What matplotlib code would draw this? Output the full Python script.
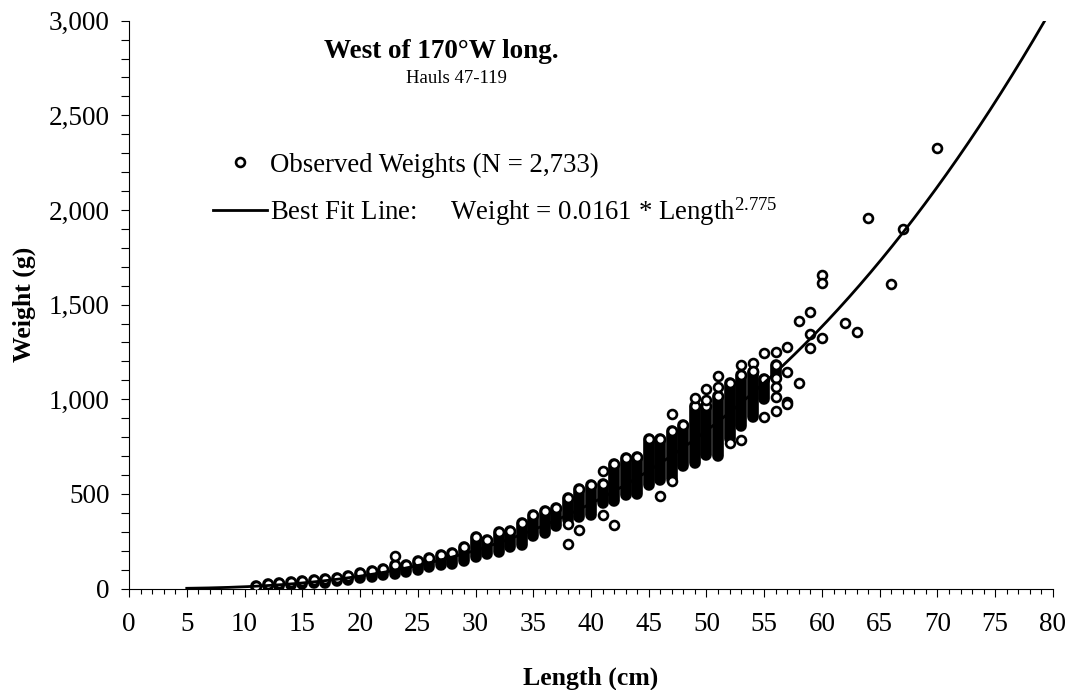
import numpy as np
import matplotlib
matplotlib.use('Agg')
import matplotlib.pyplot as plt
from matplotlib.ticker import MultipleLocator, StrMethodFormatter

# length classes (cm) with a dense band of observed weights (g)
lengths = [11, 12, 13, 14, 15, 16, 17, 18, 19, 20, 21, 22, 23, 24, 25, 26, 27, 28,
           29, 30, 31, 32, 33, 34, 35, 36, 37, 38, 39, 40, 41, 42, 43, 44, 45, 46,
           47, 48, 49, 50, 51, 52, 53, 54, 55, 56]
band_lo = [8, 12, 15, 18, 22, 28, 32, 40, 47, 55, 62, 70, 78, 90, 100, 112, 122, 132,
           145, 165, 185, 195, 220, 232, 280, 295, 330, 360, 380, 388, 450, 460, 494, 497,
           548, 575, 578, 650, 665, 705, 700, 790, 860, 908, 1004, 1110]
band_hi = [16, 22, 27, 33, 38, 45, 50, 58, 68, 80, 95, 105, 125, 125, 145, 160, 178, 188,
           220, 270, 258, 300, 305, 345, 390, 410, 425, 480, 528, 548, 555, 660, 690, 695,
           792, 790, 835, 865, 965, 965, 1018, 1085, 1130, 1146, 1105, 1180]

# scattered single observations
out_len = [23, 38, 38, 39, 41, 41, 42, 46, 47, 47, 49, 50, 50, 51, 51, 52, 53, 53,
           54, 54, 55, 55, 56, 56, 56, 56, 56, 57, 57, 57, 57, 58, 58, 59, 59, 59,
           60, 60, 60, 62, 63, 64, 66, 67, 70]
out_wt = [170, 339, 235, 312, 620, 388, 335, 488, 924, 568, 1008, 1055, 997, 1123, 1065,
          770, 1180, 786, 1192, 1150, 1245, 905, 1250, 1111, 1063, 1014, 938, 1278, 1144,
          988, 975, 1414, 1088, 1463, 1343, 1270, 1657, 1613, 1322, 1402, 1354, 1959,
          1608, 1897, 2329]

# fitted length-weight relationship
fit_a = 0.0161
fit_b = 2.775
fit_start = 5
fit_end = 80

plt.rcParams['font.family'] = ['Liberation Serif', 'DejaVu Serif']
plt.rcParams['mathtext.fontset'] = 'custom'
plt.rcParams['mathtext.rm'] = 'Liberation Serif'
plt.rcParams['mathtext.it'] = 'Liberation Serif:italic'
plt.rcParams['mathtext.bf'] = 'Liberation Serif:bold'

fig = plt.figure(figsize=(10.86, 6.9), dpi=100)
ax = fig.add_axes([0.1188, 0.147, 0.8508, 0.823])

mk = dict(linestyle='none', marker='o', ms=6.4, mfc='white', mec='black', mew=1.9)

ax.vlines(lengths, band_lo, band_hi, colors='black', linewidth=8.4, capstyle='round', zorder=2)
ax.plot(lengths, band_hi, zorder=3, **mk)
ax.plot(out_len, out_wt, zorder=3, label='Observed Weights (N = 2,733)', **mk)

fx = np.linspace(fit_start, fit_end, 400)
ax.plot(fx, fit_a * fx ** fit_b, color='black', lw=2.0, zorder=4,
        label='Best Fit Line:     Weight = 0.0161 * Length$^{2.775}$')

ax.set_xlim(0, 80)
ax.set_ylim(0, 3000)
ax.spines['top'].set_visible(False)
ax.spines['right'].set_visible(False)
ax.xaxis.set_major_locator(MultipleLocator(5))
ax.xaxis.set_minor_locator(MultipleLocator(1))
ax.yaxis.set_major_locator(MultipleLocator(500))
ax.yaxis.set_minor_locator(MultipleLocator(100))
ax.yaxis.set_major_formatter(StrMethodFormatter('{x:,.0f}'))
ax.tick_params(axis='x', which='major', length=6, width=0.8, pad=11, labelsize=19.5)
ax.tick_params(axis='x', which='minor', length=3.5, width=0.8)
ax.tick_params(axis='y', which='both', length=6, width=0.8, pad=8, labelsize=19.5)

ax.set_xlabel('Length (cm)', fontsize=18.5, fontweight='bold', labelpad=21)
ax.set_ylabel('Weight (g)', fontsize=18.5, fontweight='bold', labelpad=9)

ax.text(0.338, 0.946, 'West of 170\u00b0W long.', transform=ax.transAxes,
        ha='center', va='center', fontsize=19.5, fontweight='bold')
ax.text(0.354, 0.899, 'Hauls 47-119', transform=ax.transAxes,
        ha='center', va='center', fontsize=13.5)

ax.legend(loc='upper left', bbox_to_anchor=(0.0909, 0.768), frameon=False,
          fontsize=19.3, handlelength=2.0, handletextpad=0.12, borderpad=0,
          borderaxespad=0, labelspacing=0.65)

fig.savefig('out.png', dpi=100)
